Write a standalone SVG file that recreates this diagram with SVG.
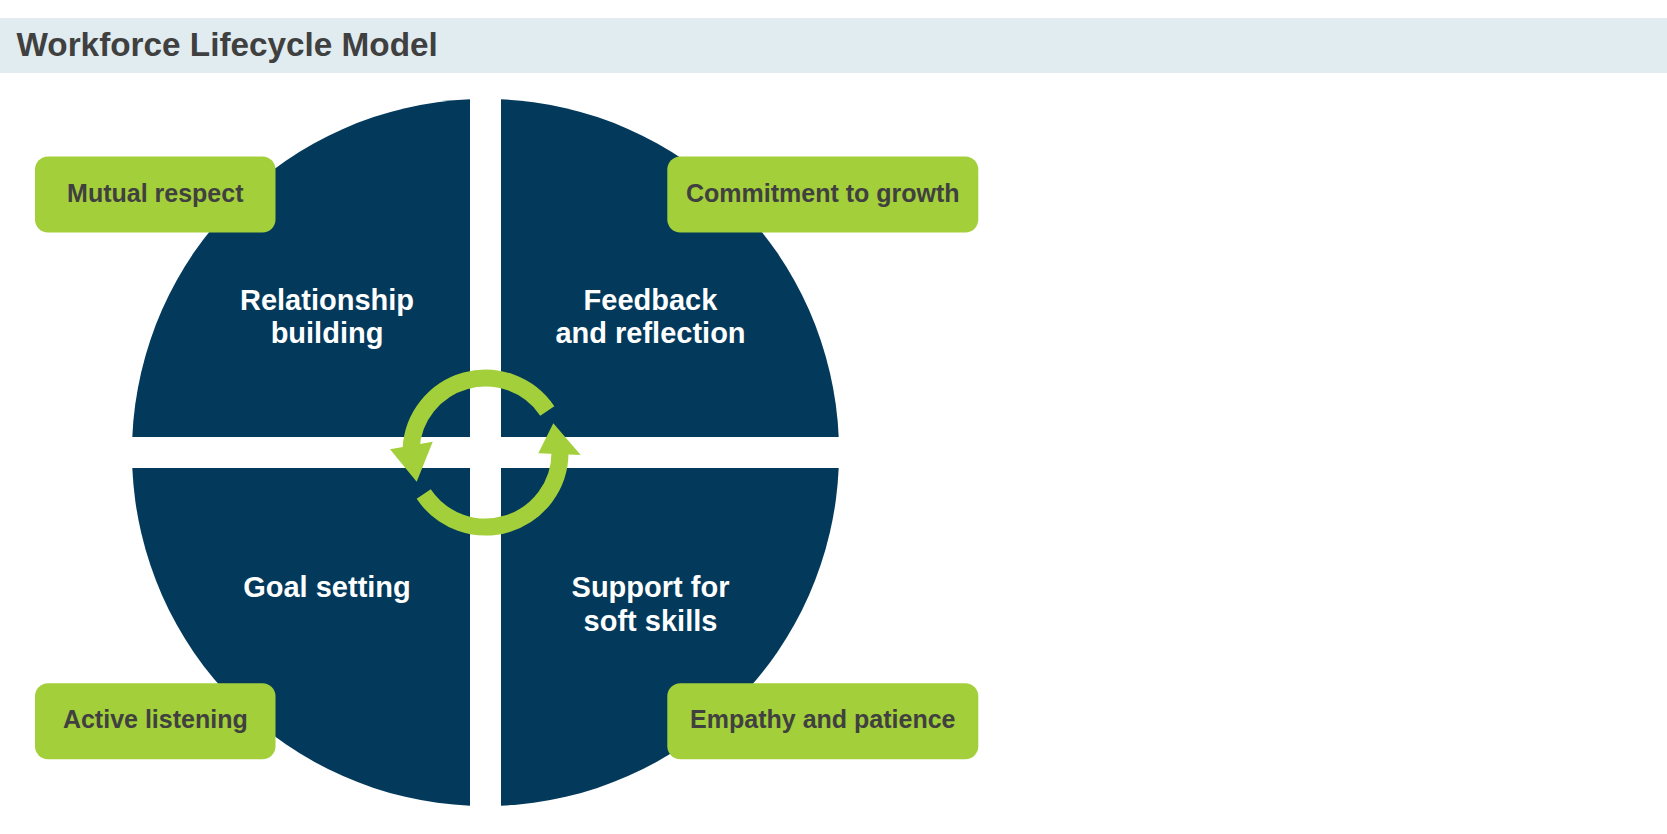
<svg xmlns="http://www.w3.org/2000/svg" width="1667" height="834" viewBox="0 0 1667 834">
<style>
.quad{fill:#033a5c}
.qt{font-family:"Liberation Sans",Arial,sans-serif;font-weight:bold;font-size:29px;fill:#ffffff;text-anchor:middle}
.box{fill:#a3cf3a}
.bt{font-family:"Liberation Sans",Arial,sans-serif;font-weight:bold;font-size:25px;fill:#404040;text-anchor:middle}
.title{font-family:"Liberation Sans",Arial,sans-serif;font-weight:bold;font-size:33.3px;fill:#404040}
.ring{fill:none;stroke:#a3cf3a;stroke-width:17}
.head{fill:#a3cf3a}
</style>
<rect width="1667" height="834" fill="#ffffff"/>
<g id="header">
<rect x="0" y="18" width="1667" height="55" fill="#e1ecf0"/>
<text class="title" x="16.5" y="56">Workforce Lifecycle Model</text>
</g>
<g id="q-relationship">
<path class="quad" d="M470,99.3 L470,437 L132.3,437 A353.5,353.5 0 0 1 470,99.3 Z"/>
<text class="qt" x="327" y="309.5">Relationship</text>
<text class="qt" x="327" y="343">building</text>
</g>
<g id="q-feedback">
<path class="quad" d="M501,99.3 A353.5,353.5 0 0 1 838.7,437 L501,437 Z"/>
<text class="qt" x="650.5" y="309.5">Feedback</text>
<text class="qt" x="650.5" y="343">and reflection</text>
</g>
<g id="q-goal">
<path class="quad" d="M470,805.7 A353.5,353.5 0 0 1 132.3,468 L470,468 Z"/>
<text class="qt" x="327" y="597">Goal setting</text>
</g>
<g id="q-support">
<path class="quad" d="M838.7,468 A353.5,353.5 0 0 1 501,805.7 L501,468 Z"/>
<text class="qt" x="650.5" y="597">Support for</text>
<text class="qt" x="650.5" y="630.5">soft skills</text>
</g>
<g id="connectors">
<path class="ring" d="M547.3,410.9 A74.5,74.5 0 0 0 411.1,448.6"/>
<polygon class="head" points="390,449.3 432.7,441.7 416.7,481.7"/>
<path class="ring" d="M423.7,494.1 A74.5,74.5 0 0 0 560,452.5"/>
<polygon class="head" points="580.7,455 538.3,453.3 553.3,423.3"/>
</g>
<g id="b-mutual">
<rect class="box" x="35" y="156.5" width="240.5" height="76" rx="13"/>
<text class="bt" x="155.3" y="201.5">Mutual respect</text>
</g>
<g id="b-commitment">
<rect class="box" x="667.3" y="156.5" width="311" height="76" rx="13"/>
<text class="bt" x="822.8" y="201.5">Commitment to growth</text>
</g>
<g id="b-active">
<rect class="box" x="35" y="683.3" width="240.5" height="76" rx="13"/>
<text class="bt" x="155.3" y="728">Active listening</text>
</g>
<g id="b-empathy">
<rect class="box" x="667.3" y="683.3" width="311" height="76" rx="13"/>
<text class="bt" x="822.8" y="728">Empathy and patience</text>
</g>
</svg>
